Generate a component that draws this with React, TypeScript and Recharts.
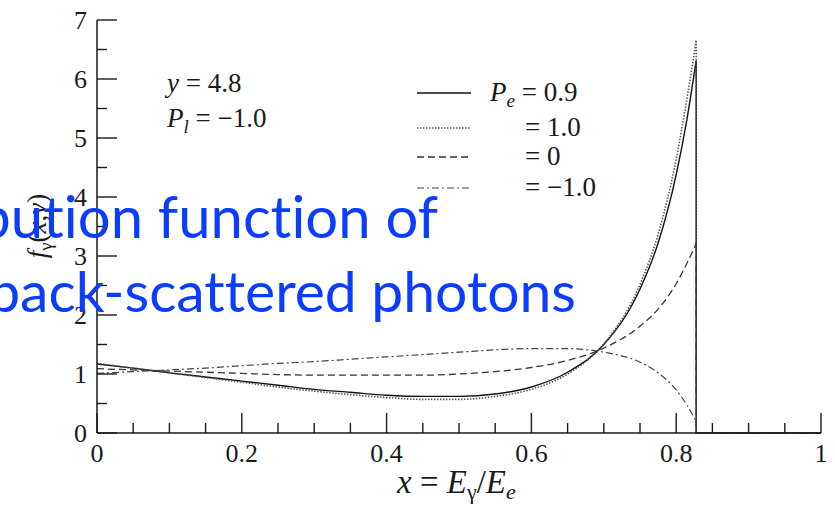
import { LineChart, Line, XAxis, YAxis, Legend } from 'recharts';

// photon energy fraction x = E_gamma / E_e, up to the Compton edge x_m = y/(1+y)
const xValues = [
  0, 0.05, 0.1, 0.15, 0.2, 0.25, 0.3, 0.35, 0.4, 0.45, 0.5, 0.55, 0.6, 0.65, 0.7, 0.75,
  0.775, 0.8, 0.815, 0.8276,
];
const edgeX = 0.8276;

// f_gamma(x, y) for the four electron polarisations
const pe09 = [
  1.17, 1.1, 1.02, 0.95, 0.88, 0.81, 0.74, 0.69, 0.64, 0.62, 0.62, 0.66, 0.78, 1.03, 1.5, 2.44,
  3.22, 4.38, 5.33, 6.31,
];
const pe10 = [
  1.18, 1.1, 1.02, 0.94, 0.86, 0.78, 0.71, 0.65, 0.6, 0.57, 0.57, 0.62, 0.74, 1.0, 1.51, 2.52,
  3.37, 4.64, 5.68, 6.65,
];
const pe00 = [
  1.09, 1.07, 1.05, 1.03, 1.01, 0.99, 0.98, 0.98, 0.98, 0.98, 1.0, 1.04, 1.11, 1.23, 1.44, 1.81,
  2.1, 2.53, 2.88, 3.21,
];
const peM1 = [
  1.01, 1.04, 1.07, 1.1, 1.14, 1.18, 1.21, 1.25, 1.29, 1.33, 1.37, 1.41, 1.43, 1.43, 1.37, 1.2,
  1.02, 0.73, 0.47, 0.2,
];

const xTicks = [
  0, 0.05, 0.1, 0.15, 0.2, 0.25, 0.3, 0.35, 0.4, 0.45, 0.5, 0.55, 0.6, 0.65, 0.7, 0.75, 0.8,
  0.85, 0.9, 0.95, 1,
];
const yTicks = [0, 0.5, 1, 1.5, 2, 2.5, 3, 3.5, 4, 4.5, 5, 5.5, 6, 6.5, 7];

const data = xValues.map((x, i) => ({
  x,
  pe09: pe09[i],
  pe10: pe10[i],
  pe00: pe00[i],
  peM1: peM1[i],
}));

// vertical drop at the edge and the empty tail up to x = 1
const dropOf = (values: number[]) => [
  { x: edgeX, v: values[values.length - 1] },
  { x: edgeX, v: 0 },
  { x: 1, v: 0 },
];

const series = [
  { key: 'pe09', values: pe09, stroke: '#111', dash: undefined as string | undefined, width: 1.4 },
  { key: 'pe10', values: pe10, stroke: '#555', dash: '1.5 1.5', width: 1.6 },
  { key: 'pe00', values: pe00, stroke: '#333', dash: '7 4', width: 1.3 },
  { key: 'peM1', values: peM1, stroke: '#444', dash: '7 3 2 3', width: 1.2 },
];

const serif = 'Liberation Serif, Times New Roman, serif';
const ink = '#1a1a1a';

const isMajor = (v: number, step: number) => Math.abs(v / step - Math.round(v / step)) < 1e-6;

function FrameTick(props: any) {
  const { x, y, payload, side } = props;
  const v = payload.value as number;
  const horizontal = side === 'bottom' || side === 'top';
  const major = horizontal ? isMajor(v, 0.2) : isMajor(v, 1);
  const len = major ? 20 : 10;
  let line;
  if (side === 'bottom') line = <line x1={x} y1={y} x2={x} y2={y - len} />;
  else if (side === 'top') line = <line x1={x} y1={y} x2={x} y2={y + len} />;
  else if (side === 'left') line = <line x1={x} y1={y} x2={x + len} y2={y} />;
  else line = <line x1={x} y1={y} x2={x - len} y2={y} />;
  let label = null;
  if (major && side === 'bottom') {
    label = (
      <text x={x} y={y + 29} textAnchor="middle" fontFamily={serif} fontSize={26} fill={ink}>
        {v === 0 || v === 1 ? String(v) : v.toFixed(1)}
      </text>
    );
  } else if (major && side === 'left') {
    label = (
      <text x={x - 10} y={y + 9} textAnchor="end" fontFamily={serif} fontSize={26} fill={ink}>
        {String(v)}
      </text>
    );
  }
  return (
    <g stroke={ink} strokeWidth={1.4}>
      {line}
      {label && <g stroke="none">{label}</g>}
    </g>
  );
}

function PolarisationKey() {
  const rows = [
    { y: 23, lab: null as string | null },
    { y: 58, lab: '= 1.0' },
    { y: 87, lab: '= 0' },
    { y: 118, lab: '= \u22121.0' },
  ];
  return (
    <svg width={220} height={140} style={{ display: 'block', overflow: 'visible' }}>
      {series.map((s, i) => (
        <line
          key={s.key}
          x1={7}
          x2={61}
          y1={rows[i].y}
          y2={rows[i].y}
          stroke={s.stroke}
          strokeWidth={s.width}
          strokeDasharray={s.dash}
        />
      ))}
      <text x={80} y={31} fontFamily={serif} fontSize={27} fill={ink}>
        <tspan fontStyle="italic">P</tspan>
        <tspan fontStyle="italic" fontSize={19} dy={6}>e</tspan>
        <tspan dy={-6}> = 0.9</tspan>
      </text>
      {rows.slice(1).map((r) => (
        <text key={r.y} x={115} y={r.y + 8} fontFamily={serif} fontSize={27} fill={ink}>
          {r.lab}
        </text>
      ))}
    </svg>
  );
}

export default function App() {
  return (
    <div style={{ position: 'absolute', left: 0, top: 0, width: 835, height: 507, background: '#fff' }}>
      <LineChart width={835} height={507} data={data} margin={{ top: 20, right: 14, bottom: 0, left: 0 }}>
        <XAxis
          dataKey="x"
          type="number"
          domain={[0, 1]}
          ticks={xTicks}
          allowDuplicatedCategory
          tickSize={0}
          tickMargin={0}
          height={74}
          axisLine={{ stroke: ink, strokeWidth: 1.5 }}
          tick={(p: any) => <FrameTick {...p} side="bottom" />}
        />
        <XAxis
          xAxisId="top"
          orientation="top"
          type="number"
          domain={[0, 1]}
          ticks={xTicks}
          tickSize={0}
          tickMargin={0}
          height={0}
          axisLine={{ stroke: ink, strokeWidth: 1.5 }}
          tick={(p: any) => <FrameTick {...p} side="top" />}
        />
        <YAxis
          type="number"
          domain={[0, 7]}
          ticks={yTicks}
          width={97}
          tickSize={0}
          tickMargin={0}
          axisLine={{ stroke: ink, strokeWidth: 1.5 }}
          tick={(p: any) => <FrameTick {...p} side="left" />}
        />
        <YAxis
          yAxisId="right"
          orientation="right"
          type="number"
          domain={[0, 7]}
          ticks={yTicks}
          width={0}
          tickSize={0}
          tickMargin={0}
          axisLine={{ stroke: ink, strokeWidth: 1.5 }}
          tick={(p: any) => <FrameTick {...p} side="right" />}
        />
        {series.map((s) => (
          <Line
            key={s.key}
            type="monotone"
            dataKey={s.key}
            stroke={s.stroke}
            strokeWidth={s.width}
            strokeDasharray={s.dash}
            dot={false}
            activeDot={false}
            isAnimationActive={false}
          />
        ))}
        {series.map((s) => (
          <Line
            key={s.key + '-edge'}
            data={dropOf(s.values)}
            type="linear"
            dataKey="v"
            stroke={s.stroke}
            strokeWidth={s.width}
            strokeDasharray={s.dash}
            dot={false}
            activeDot={false}
            isAnimationActive={false}
          />
        ))}
        <Legend
          layout="horizontal"
          verticalAlign="middle"
          wrapperStyle={{ position: 'absolute', left: 410, top: 70, width: 220, height: 140 }}
          content={() => <PolarisationKey />}
        />
      </LineChart>
      <svg
        width={835}
        height={507}
        style={{ position: 'absolute', left: 0, top: 0, pointerEvents: 'none' }}
      >
        <text x={167} y={92} fontFamily={serif} fontSize={27} fill={ink}>
          <tspan fontStyle="italic">y</tspan>
          <tspan> = 4.8</tspan>
        </text>
        <text x={167} y={127} fontFamily={serif} fontSize={27} fill={ink}>
          <tspan fontStyle="italic">P</tspan>
          <tspan fontStyle="italic" fontSize={19} dy={6}>l</tspan>
          <tspan dy={-6}> = {'\u2212'}1.0</tspan>
        </text>
        <text x={397} y={493} fontFamily={serif} fontSize={33} fill={ink}>
          <tspan fontStyle="italic">x</tspan>
          <tspan> = </tspan>
          <tspan fontStyle="italic">E</tspan>
          <tspan fontSize={22} dy={6}>γ</tspan>
          <tspan dy={-6}>/</tspan>
          <tspan fontStyle="italic">E</tspan>
          <tspan fontStyle="italic" fontSize={22} dy={6}>e</tspan>
        </text>
        <text
          x={46}
          y={226}
          transform="rotate(-90 46 226)"
          textAnchor="middle"
          fontFamily={serif}
          fontSize={27}
          fill={ink}
        >
          <tspan fontStyle="italic">f</tspan>
          <tspan fontSize={19} dy={6}>γ</tspan>
          <tspan dy={-6}>(</tspan>
          <tspan fontStyle="italic">x</tspan>
          <tspan>,</tspan>
          <tspan fontStyle="italic">y</tspan>
          <tspan>)</tspan>
        </text>
        <g
          fontFamily="Lato, sans-serif"
          fill="#0b3dff"
          textAnchor="end"
          style={{ fontVariantLigatures: 'none' }}
        >
          <text x={438} y={238} fontSize={58}>Distribution function of</text>
          <text x={576} y={312} fontSize={57}>back-scattered photons</text>
        </g>
      </svg>
    </div>
  );
}
